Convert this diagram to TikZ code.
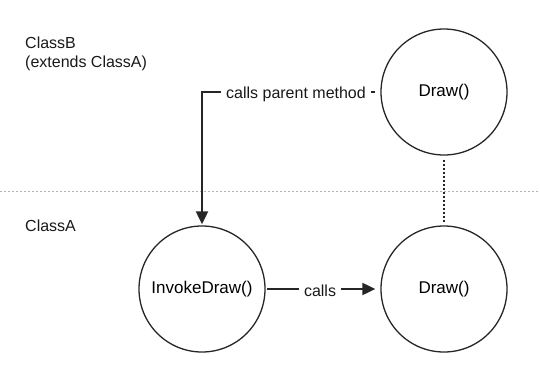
\documentclass[tikz,border=0pt]{standalone}
\usepackage{fontspec}
\setmainfont{Liberation Sans}
\usetikzlibrary{arrows.meta}
\begin{document}
\begin{tikzpicture}[x=1pt,y=-1pt,
  meth/.style={circle,draw=black!85,line width=1.3pt,minimum size=126pt,inner sep=0pt,font=\fontsize{17}{20}\selectfont},
  lbl/.style={font=\fontsize{16}{19}\selectfont,text=black!90,inner sep=0pt},
  conn/.style={draw=black!85,line width=2pt},
  tip/.style={-{Triangle[length=13pt,width=12pt]}}
]
\useasboundingbox (0,0) rectangle (540,386);
\draw[gray!60,line width=0.8pt,dash pattern=on 2pt off 2pt] (0,191) -- (540,191);
\node[lbl,anchor=north west,align=left] (classb) at (25,37) {ClassB\\(extends ClassA)};
\node[lbl,anchor=west] (classa) at (25,226) {ClassA};
\node[meth] (bdraw) at (444,92) {\raisebox{-3pt}{Draw()}};
\node[meth] (invoke) at (202,289) {\raisebox{-2pt}{InvokeDraw()}};
\node[meth] (adraw) at (444,289) {\raisebox{-3pt}{Draw()}};
\coordinate (corner) at (invoke.north |- bdraw.west);
\draw[conn,tip,shorten <=5pt,shorten >=1pt] (bdraw.west) -- (corner) -- (invoke.north);
\node[lbl,fill=white,inner xsep=5pt,inner ysep=4pt] (cpm) at (296,94) {calls parent method};
\draw[conn,tip,shorten <=1pt,shorten >=5pt] (invoke.east) -- (adraw.west);
\node[lbl,fill=white,inner xsep=5pt,inner ysep=4pt] (calls) at (320,291) {calls};
\draw[black!85,line width=2pt,line cap=butt,dash pattern=on 2pt off 2pt,shorten <=4pt,shorten >=3pt] (bdraw.south) -- (adraw.north);
\end{tikzpicture}
\end{document}
